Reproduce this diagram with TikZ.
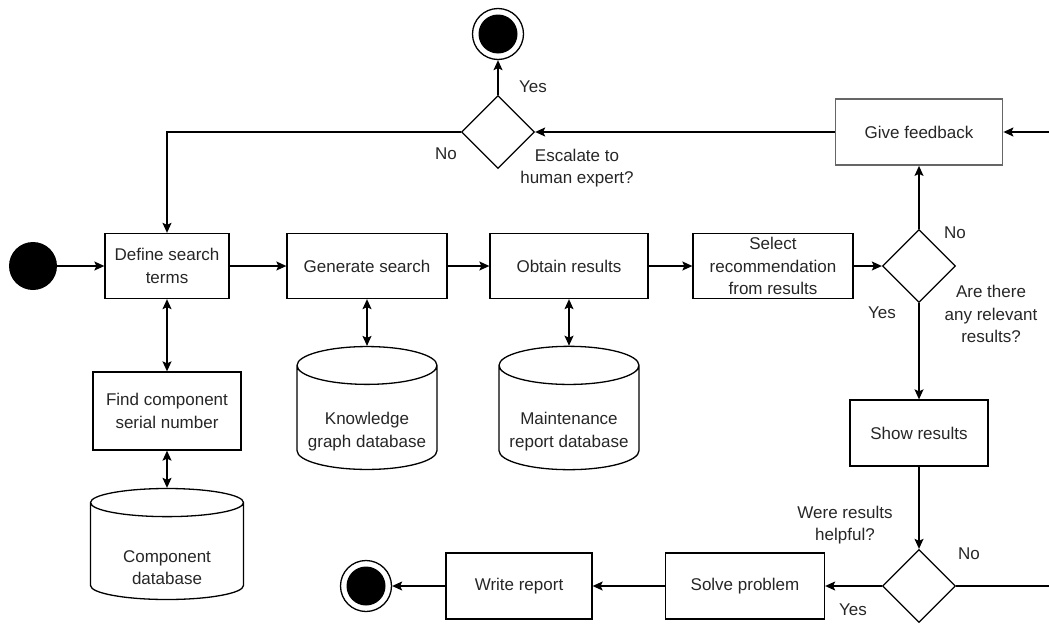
\documentclass[tikz,border=0pt]{standalone}
\usepackage{fontspec}
\setmainfont{Liberation Sans}
\usetikzlibrary{shapes.geometric, arrows.meta, positioning}
\colorlet{Label}{black!85}
\colorlet{Frame}{black!60}

\begin{document}
\begin{tikzpicture}[x=1pt, y=-1pt,
  every node/.style={font=\fontsize{17}{22.5}\selectfont, text=Label, align=center},
  stepbox/.style={rectangle, draw=black, line width=1.3pt, minimum height=65pt, inner sep=2pt},
  decision/.style={diamond, draw=black, line width=1.3pt, minimum width=73pt, minimum height=73pt, inner sep=0pt},
  dbase/.style={cylinder, shape border rotate=90, aspect=0.32, draw=black, line width=1.3pt, inner sep=0pt, anchor=shape center, text height=62pt},
  startdot/.style={circle, fill=black, minimum size=48pt, inner sep=0pt},
  enddot/.style={circle, draw=black, line width=1.3pt, minimum size=51pt, inner sep=0pt,
    path picture={\fill[black] (path picture bounding box.center) circle (19.5pt);}},
  flow/.style={-{Stealth[length=10pt,width=9pt,inset=2pt]}, line width=1.3pt},
  both/.style={{Stealth[length=10pt,width=9pt,inset=2pt]}-{Stealth[length=10pt,width=9pt,inset=2pt]}, line width=1.3pt},
  note/.style={font=\fontsize{17}{22.5}\selectfont, text=Label}
]
\useasboundingbox (0,0) rectangle (1049,624);

% main row
\node[startdot] (start) at (33,266) {};
\node[stepbox, minimum width=124pt] (define) at (167,266) {Define search\\terms};
\node[stepbox, minimum width=160pt] (gen) at (367,266) {Generate search};
\node[stepbox, minimum width=158pt] (obtain) at (569,266) {Obtain results};
\node[stepbox, minimum width=160pt] (select) at (773,266) {Select\\recommendation\\from results};
\node[decision] (relevant) at (919,266) {};

% feedback loop
\node[stepbox, draw=Frame, line width=1.8pt, minimum width=167pt, minimum height=66pt] (feedback) at (919,132) {Give feedback};
\node[decision] (escalate) at (498,132) {};
\node[enddot] (stoptop) at (498,34) {};
\coordinate (inright) at (1049,132);

% lookups
\node[stepbox, minimum width=148pt, minimum height=78pt] (find) at (167,411) {Find component\\serial number};
\node[dbase, minimum width=153pt, minimum height=111pt, text height=67pt] (compdb) at (167,544) {Component\\database};
\node[dbase, minimum width=140pt, minimum height=111pt] (kgdb) at (367,408) {Knowledge\\graph database};
\node[dbase, minimum width=140pt, minimum height=111pt] (mrdb) at (569,408) {Maintenance\\report database};

% results
\node[stepbox, minimum width=138pt, minimum height=66pt] (show) at (919,433) {Show results};
\node[decision] (helpful) at (919,586) {};
\node[stepbox, minimum width=159pt, minimum height=66pt] (solve) at (745,586) {Solve problem};
\node[stepbox, minimum width=146pt, minimum height=66pt] (write) at (519,586) {Write report};
\node[enddot] (stopbottom) at (366,586) {};
\coordinate (outright) at (1049,586);

\draw[flow] (start) -- (define);
\draw[flow] (define) -- (gen);
\draw[flow] (gen) -- (obtain);
\draw[flow] (obtain) -- (select);
\draw[flow] (select) -- (relevant);
\draw[flow] (relevant) -- (feedback);
\draw[flow] (inright) -- (feedback);
\draw[flow] (feedback) -- (escalate);
\draw[flow] (escalate) -- (stoptop);
\draw[flow] (escalate.west) -| (define.north);
\draw[both] (define) -- (find);
\draw[both] (find) -- (compdb);
\draw[both] (gen) -- (kgdb);
\draw[both] (obtain) -- (mrdb);
\draw[flow] (relevant) -- (show);
\draw[flow] (show) -- (helpful);
\draw[flow] (helpful) -- (solve);
\draw[flow] (solve) -- (write);
\draw[flow] (write) -- (stopbottom);
\draw[line width=1.3pt] (helpful) -- (outright);

% decision labels
\node[note] (yesesc) at (533,87) {Yes};
\node[note] (noesc) at (446,154) {No};
\node[note, align=center] (escq) at (577,168) {Escalate to\\human expert?};
\node[note] (norel) at (955,233) {No};
\node[note] (yesrel) at (882,313) {Yes};
\node[note, align=center] (relq) at (991,314) {Are there\\any relevant\\results?};
\node[note, align=center] (helpq) at (845,525) {Were results\\helpful?};
\node[note] (nohelp) at (969,554) {No};
\node[note] (yeshelp) at (853,610) {Yes};
\end{tikzpicture}
\end{document}
